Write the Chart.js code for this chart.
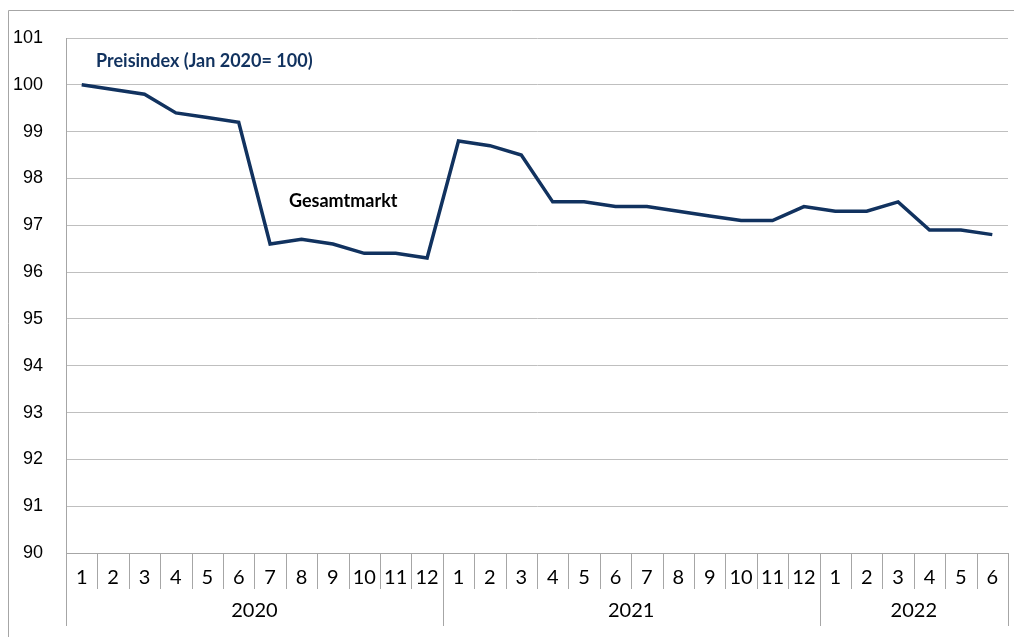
<!DOCTYPE html>
<html>
<head>
<meta charset="utf-8">
<script src="https://cdn.jsdelivr.net/npm/chart.js@4"></script>
<style>
  html, body { margin: 0; padding: 0; background: #fff; }
  #wrap { width: 1014px; height: 637px; }
</style>
</head>
<body>
<div id="wrap"><canvas id="priceChart"></canvas></div>
<script>
// data
const years = ['2020', '2021', '2022'];
const monthsPerYear = [12, 12, 6];
const monthLabels = [
  '1','2','3','4','5','6','7','8','9','10','11','12',
  '1','2','3','4','5','6','7','8','9','10','11','12',
  '1','2','3','4','5','6'
];
const priceIndex = [
  100, 99.9, 99.8, 99.4, 99.3, 99.2, 96.6, 96.7, 96.6, 96.4, 96.4, 96.3,
  98.8, 98.7, 98.5, 97.5, 97.5, 97.4, 97.4, 97.3, 97.2, 97.1, 97.1, 97.4,
  97.3, 97.3, 97.5, 96.9, 96.9, 96.8
];
const yTicks = { min: 90, max: 101, step: 1 };

const gridGray = '#bfbfbf';
const axisGray = '#a6a6a6';
const navy = '#11325f';

// frame, month separators, year row and the two text labels
const decorPlugin = {
  id: 'decor',
  afterDraw(chart) {
    const ctx = chart.ctx;
    const x = chart.scales.x;
    const area = chart.chartArea;
    const step = (area.right - area.left) / monthLabels.length;
    ctx.save();
    ctx.strokeStyle = axisGray;
    ctx.lineWidth = 1;

    // outer frame (left and top)
    ctx.beginPath();
    ctx.moveTo(8.5, chart.height);
    ctx.lineTo(8.5, 10.5);
    ctx.lineTo(chart.width, 10.5);
    ctx.stroke();

    // month separators
    ctx.beginPath();
    for (let i = 0; i <= monthLabels.length; i++) {
      const px = Math.round(x.getPixelForValue(i) - step / 2) + 0.5;
      ctx.moveTo(px, area.bottom);
      ctx.lineTo(px, area.bottom + 36);
    }
    ctx.stroke();

    // year separators and labels
    let start = 0;
    ctx.font = '20px Lato, "Noto Sans", sans-serif';
    ctx.fillStyle = '#000';
    ctx.textAlign = 'center';
    ctx.textBaseline = 'middle';
    ctx.beginPath();
    const first = Math.round(x.getPixelForValue(0) - step / 2) + 0.5;
    ctx.moveTo(first, area.bottom);
    ctx.lineTo(first, area.bottom + 73);
    years.forEach((yr, k) => {
      const end = start + monthsPerYear[k];
      const px0 = x.getPixelForValue(start) - step / 2;
      const px1 = x.getPixelForValue(end - 1) + step / 2;
      const sx = Math.round(px1) + 0.5;
      ctx.moveTo(sx, area.bottom);
      ctx.lineTo(sx, area.bottom + 73);
      ctx.fillText(yr, (px0 + px1) / 2, area.bottom + 58);
      start = end;
    });
    ctx.stroke();

    // text in the plot
    ctx.textAlign = 'left';
    ctx.font = 'bold 18px Lato, "Noto Sans", sans-serif';
    ctx.fillStyle = navy;
    ctx.fillText('Preisindex (Jan 2020= 100)', 96, 61);
    ctx.fillStyle = '#000';
    ctx.fillText('Gesamtmarkt', 289, 201);
    ctx.restore();
  }
};

new Chart(document.getElementById('priceChart'), {
  type: 'line',
  data: {
    labels: monthLabels,
    datasets: [{
      label: 'Gesamtmarkt',
      data: priceIndex,
      borderColor: navy,
      borderWidth: 3.5,
      pointRadius: 0,
      tension: 0,
      fill: false
    }]
  },
  options: {
    responsive: true,
    maintainAspectRatio: false,
    animation: false,
    layout: { padding: { top: 38, right: 6, left: 0, bottom: 0 } },
    plugins: {
      legend: { display: false },
      tooltip: { enabled: false }
    },
    scales: {
      x: {
        offset: true,
        grid: { display: false, drawTicks: false },
        border: { display: true, color: axisGray },
        ticks: {
          padding: 13,
          maxRotation: 0,
          autoSkip: false,
          color: '#000',
          font: { family: 'Lato, "Noto Sans", sans-serif', size: 20 }
        },
        afterFit(scale) { scale.height = 84; }
      },
      y: {
        min: yTicks.min,
        max: yTicks.max,
        grid: { color: gridGray, drawTicks: false, lineWidth: 1 },
        border: { display: true, color: axisGray },
        ticks: {
          stepSize: yTicks.step,
          padding: 23,
          color: '#000',
          font: { family: '"Liberation Sans", Arial, sans-serif', size: 18 }
        },
        afterFit(scale) { scale.width = 66; }
      }
    }
  },
  plugins: [decorPlugin]
});
</script>
</body>
</html>
